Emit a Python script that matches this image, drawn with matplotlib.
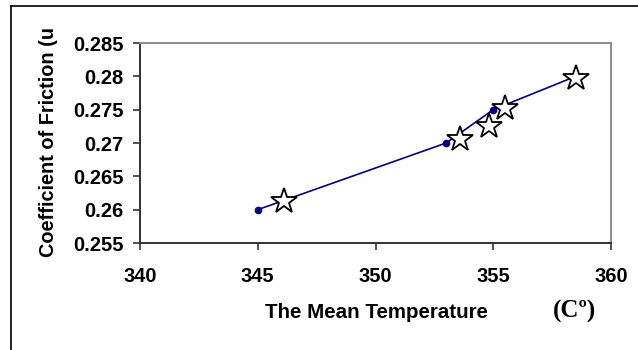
import matplotlib
matplotlib.use("Agg")
import matplotlib.pyplot as plt
from matplotlib.lines import Line2D

# line series (navy, dot markers)
temp_line = [345.0, 353.0, 355.0, 358.5]
mu_line = [0.260, 0.270, 0.275, 0.280]

# star markers
temp_star = [346.1, 353.6, 354.8, 355.5, 358.5]
mu_star = [0.2613, 0.2706, 0.2726, 0.2752, 0.2798]

x_ticks = [340, 345, 350, 355, 360]
y_ticks = [0.255, 0.26, 0.265, 0.27, 0.275, 0.28, 0.285]
y_ticklabels = ["0.255", "0.26", "0.265", "0.27", "0.275", "0.28", "0.285"]

W, H = 638, 350
plt.rcParams["font.family"] = ["Liberation Sans", "DejaVu Sans"]

fig = plt.figure(figsize=(W / 100, H / 100), dpi=100)
ax = fig.add_axes([140 / W, 1 - 243 / H, (611 - 140) / W, (243 - 43) / H])

ax.plot(temp_line, mu_line, color="#000080", lw=1.2, marker="o", ms=4.5,
        zorder=2)
ax.plot(temp_star, mu_star, ls="none", marker="*", ms=19, mfc="white",
        mec="black", mew=1.3, zorder=3)

ax.set_xlim(340, 360)
ax.set_ylim(0.255, 0.285)
ax.set_xticks(x_ticks)
ax.set_xticklabels([str(t) for t in x_ticks], fontsize=14.5, fontweight="bold")
ax.set_yticks(y_ticks)
ax.set_yticklabels(y_ticklabels, fontsize=14.5, fontweight="bold")
ax.tick_params(direction="out", length=5, width=1.2, color="#333333", pad=7)
ax.tick_params(axis="x", pad=12)

for side in ("left", "bottom"):
    ax.spines[side].set_color("#333333")
    ax.spines[side].set_linewidth(1.4)
for side in ("top", "right"):
    ax.spines[side].set_color("#8c8c8c")
    ax.spines[side].set_linewidth(1.4)

fig.text(376 / W, 1 - 312 / H, "The Mean Temperature", ha="center",
         va="center", fontsize=14.8, fontweight="bold")
fig.text(574 / W, 1 - 311 / H, "(C\u00ba)", ha="center", va="center",
         fontsize=18, fontweight="bold", family="Liberation Serif")
fig.text(49 / W, 1 - 142 / H, "Coefficient of Friction (u", rotation=90,
         ha="center", va="center", fontsize=14.3, fontweight="bold")

# outer chart frame (only left and top edges visible)
fig.add_artist(Line2D([11 / W, 11 / W], [0, 1 - 6 / H], color="black", lw=1.2))
fig.add_artist(Line2D([11 / W, 1], [1 - 6 / H, 1 - 6 / H], color="black", lw=1.2))

fig.savefig("out.png", dpi=100)
